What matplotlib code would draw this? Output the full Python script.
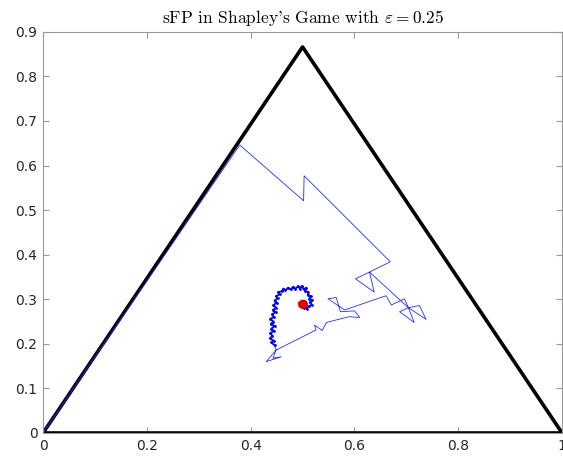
import numpy as np
from matplotlib import pyplot as plt

plt.rcParams['mathtext.fontset'] = 'cm'

# simplex corners
tri_x = [0, 0.5, 1, 0]
tri_y = [0, np.sqrt(3) / 2, 0, 0]

# early part of the sFP trajectory (big jumps)
path_x = [0.0, 0.379, 0.502, 0.503, 0.669, 0.629, 0.602, 0.638, 0.629, 0.704,
          0.687, 0.715, 0.704, 0.725, 0.738, 0.704, 0.696, 0.671, 0.661, 0.581,
          0.549, 0.565, 0.573, 0.600, 0.610, 0.590, 0.546, 0.538, 0.523, 0.526,
          0.449, 0.430, 0.459, 0.443, 0.449, 0.446]
path_y = [0.0, 0.646, 0.521, 0.577, 0.384, 0.361, 0.346, 0.316, 0.361, 0.281,
          0.272, 0.248, 0.281, 0.286, 0.255, 0.281, 0.301, 0.287, 0.308, 0.276,
          0.301, 0.304, 0.272, 0.274, 0.259, 0.261, 0.248, 0.230, 0.242, 0.231,
          0.186, 0.160, 0.171, 0.168, 0.186, 0.197]

# later part, many small steps curling into the centre
curl_x = [0.446, 0.440, 0.445, 0.437, 0.442, 0.438, 0.445, 0.440, 0.446, 0.439,
          0.444, 0.438, 0.445, 0.441, 0.448, 0.443, 0.449, 0.444, 0.450, 0.446,
          0.452, 0.449, 0.456, 0.453, 0.460, 0.463, 0.467, 0.472, 0.477, 0.482,
          0.486, 0.491, 0.495, 0.499, 0.502, 0.507, 0.505, 0.511, 0.510, 0.516,
          0.513, 0.519, 0.514, 0.518, 0.512, 0.508, 0.503]
curl_y = [0.197, 0.203, 0.207, 0.212, 0.218, 0.224, 0.229, 0.234, 0.240, 0.245,
          0.250, 0.256, 0.260, 0.266, 0.271, 0.276, 0.281, 0.287, 0.292, 0.297,
          0.302, 0.307, 0.311, 0.316, 0.318, 0.324, 0.320, 0.326, 0.322, 0.328,
          0.323, 0.329, 0.324, 0.330, 0.322, 0.326, 0.318, 0.316, 0.309, 0.307,
          0.301, 0.298, 0.293, 0.288, 0.284, 0.279, 0.281]

# final iterations around the equilibrium
end_x = [0.503, 0.508, 0.506, 0.499, 0.493, 0.494, 0.500, 0.505, 0.503, 0.497,
         0.496, 0.500]
end_y = [0.281, 0.287, 0.295, 0.297, 0.292, 0.284, 0.281, 0.286, 0.293, 0.293,
         0.287, 0.286]
eq_x = [0.5]
eq_y = [np.sqrt(3) / 6]

fig = plt.figure(figsize=(5.63, 4.58), dpi=100)
ax = fig.add_axes([0.0764, 0.0546, 0.922, 0.876])

ax.plot(tri_x, tri_y, color='k', lw=2.6)
ax.plot(path_x, path_y, color='#2030ff', lw=0.6)
ax.plot(curl_x, curl_y, color='b', lw=1.3, marker='.', ms=2)
ax.plot(end_x, end_y, color='r', lw=1.5)
ax.plot(eq_x, eq_y, 'o', color='r', ms=5.5, mec='#c00000')

ax.set_xlim(0, 1)
ax.set_ylim(0, 0.9)
ax.set_xticks(np.arange(0, 1.01, 0.2))
ax.set_xticklabels(['0', '0.2', '0.4', '0.6', '0.8', '1'])
ax.set_yticks(np.arange(0, 0.91, 0.1))
ax.set_yticklabels(['0', '0.1', '0.2', '0.3', '0.4', '0.5', '0.6', '0.7', '0.8', '0.9'])
ax.tick_params(direction='in', top=True, right=True, length=4, color='#999999',
               labelsize=10, labelcolor='#262626', pad=4)
for s in ax.spines.values():
    s.set_color('#999999')
    s.set_linewidth(0.8)

ax.set_title(r"sFP in Shapley's Game with $\varepsilon = 0.25$",
             fontsize=12.5, family='cmr10', pad=6)

fig.savefig('out.png', dpi=100)
